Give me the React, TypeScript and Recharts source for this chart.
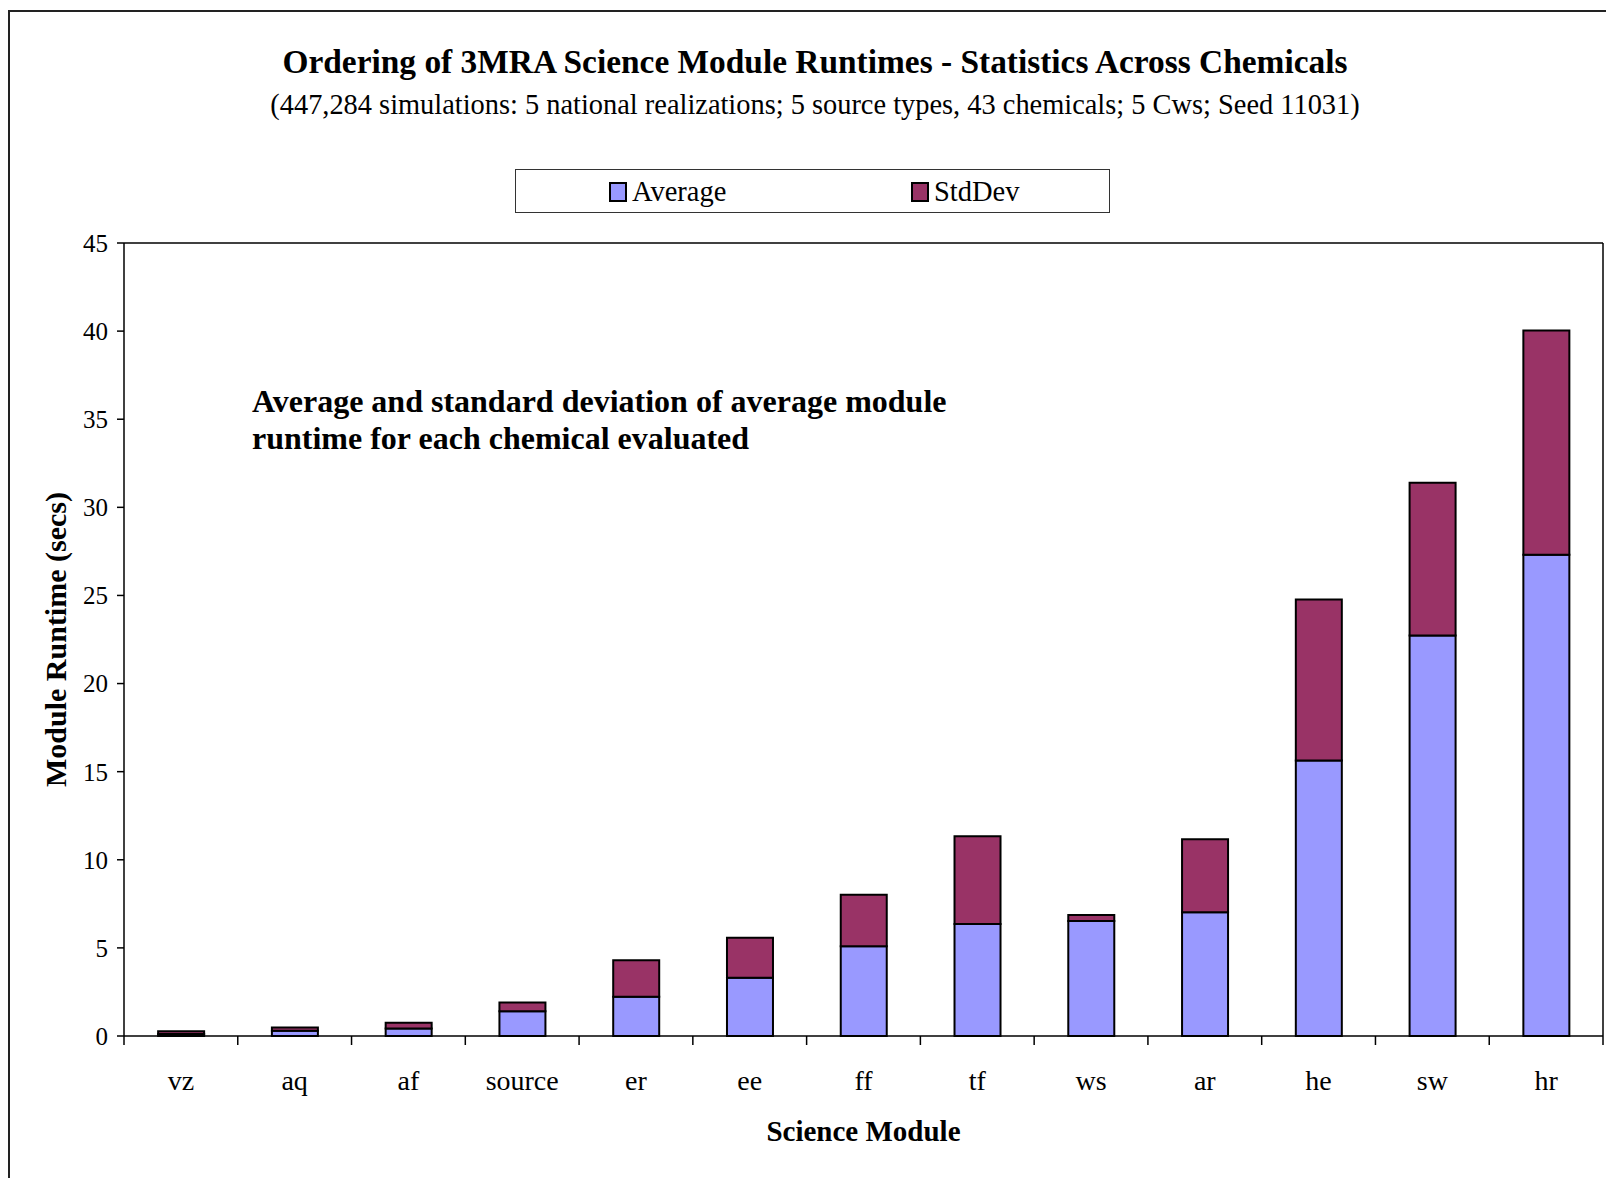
import React from 'react';
import { BarChart, Bar, XAxis, YAxis } from 'recharts';

// module runtimes (secs), ordered by average
const modules = ['vz', 'aq', 'af', 'source', 'er', 'ee', 'ff', 'tf', 'ws', 'ar', 'he', 'sw', 'hr'];
const averages = [0.12, 0.3, 0.42, 1.4, 2.23, 3.3, 5.1, 6.36, 6.53, 7.02, 15.64, 22.73, 27.31];
const stdDevs = [0.15, 0.18, 0.33, 0.5, 2.07, 2.27, 2.92, 4.98, 0.34, 4.14, 9.13, 8.67, 12.73];
const runtimeTicks = [0, 5, 10, 15, 20, 25, 30, 35, 40, 45];
const seriesNames = ['Average', 'StdDev'];

const data = modules.map((name, i) => ({ name, Average: averages[i], StdDev: stdDevs[i] }));

const SERIF = '"Liberation Serif", "Times New Roman", serif';
const COLORS: Record<string, string> = { Average: '#9999FF', StdDev: '#993366' };

// category label in the middle, tick marks on the category edges (Excel style)
const ModuleTick = (props: any) => {
  const { x, y, payload, index, visibleTicksCount } = props;
  const half = payload.offset || 0;
  const isLast = index === visibleTicksCount - 1;
  return (
    <g>
      <line x1={x - half} x2={x - half} y1={y} y2={y + 9} stroke="#000" strokeWidth={1.5} />
      {isLast && <line x1={x + half} x2={x + half} y1={y} y2={y + 9} stroke="#000" strokeWidth={1.5} />}
      <text x={x} y={y + 54} textAnchor="middle" fontFamily={SERIF} fontSize={28} fill="#000">
        {payload.value}
      </text>
    </g>
  );
};

const YLabel = ({ viewBox }: any) => {
  const cx = viewBox.x - 9;
  const cy = viewBox.y + viewBox.height / 2;
  return (
    <text
      x={cx}
      y={cy}
      transform={`rotate(-90 ${cx} ${cy})`}
      textAnchor="middle"
      dominantBaseline="central"
      fontFamily={SERIF}
      fontWeight="bold"
      fontSize={30}
      fill="#000"
    >
      Module Runtime (secs)
    </text>
  );
};

const XLabel = ({ viewBox }: any) => (
  <text
    x={viewBox.x + viewBox.width / 2}
    y={1141}
    textAnchor="middle"
    fontFamily={SERIF}
    fontWeight="bold"
    fontSize={29}
    fill="#000"
  >
    Science Module
  </text>
);

const LegendBox = () => (
  <div
    style={{
      position: 'absolute',
      left: 515,
      top: 169,
      width: 595,
      height: 44,
      boxSizing: 'border-box',
      border: '1px solid #333',
      background: '#fff',
      fontFamily: SERIF,
      fontSize: 28.5,
      color: '#000',
    }}
  >
    {seriesNames.map((name, i) => (
      <div
        key={name}
        style={{ position: 'absolute', left: i === 0 ? 93 : 395, top: 4, display: 'flex', alignItems: 'center', height: 36 }}
      >
        <span
          style={{
            display: 'inline-block',
            width: 14,
            height: 16,
            background: COLORS[name],
            border: '2px solid #000',
            marginRight: 5,
          }}
        />
        <span>{name}</span>
      </div>
    ))}
  </div>
);

export default function App() {
  return (
    <div style={{ position: 'absolute', left: 0, top: 0, width: 1606, height: 1178, overflow: 'hidden', background: '#fff' }}>
      <div
        style={{
          position: 'absolute',
          left: 8,
          top: 10,
          width: 1700,
          height: 1300,
          borderLeft: '2px solid #222',
          borderTop: '2px solid #222',
        }}
      />
      <div
        style={{
          position: 'absolute',
          left: 0,
          width: 1630,
          top: 43,
          textAlign: 'center',
          fontFamily: SERIF,
          fontWeight: 'bold',
          fontSize: 33.4,
          color: '#000',
        }}
      >
        Ordering of 3MRA Science Module Runtimes - Statistics Across Chemicals
      </div>
      <div
        style={{
          position: 'absolute',
          left: 0,
          width: 1630,
          top: 89,
          textAlign: 'center',
          fontFamily: SERIF,
          fontSize: 28.4,
          color: '#000',
        }}
      >
        (447,284 simulations: 5 national realizations; 5 source types, 43 chemicals; 5 Cws; Seed 11031)
      </div>
      <div
        style={{
          position: 'absolute',
          left: 252,
          top: 383,
          fontFamily: SERIF,
          fontWeight: 'bold',
          fontSize: 32,
          lineHeight: '37px',
          color: '#000',
        }}
      >
        Average and standard deviation of average module
        <br />
        runtime for each chemical evaluated
      </div>
      <LegendBox />
      <div style={{ position: 'absolute', left: 0, top: 0 }}>
        <BarChart
          width={1606}
          height={1178}
          data={data}
          margin={{ top: 242, right: 2, bottom: 102, left: 64 }}
          barCategoryGap="30%"
        >
          <XAxis
            dataKey="name"
            height={40}
            tickLine={false}
            tickSize={0}
            tickMargin={0}
            axisLine={{ stroke: '#000', strokeWidth: 1.5 }}
            tick={<ModuleTick />}
            interval={0}
            label={<XLabel />}
          />
          <XAxis
            xAxisId="top"
            orientation="top"
            dataKey="name"
            height={1}
            tick={false}
            tickLine={false}
            axisLine={{ stroke: '#000', strokeWidth: 1.5 }}
          />
          <YAxis
            domain={[0, 45]}
            ticks={runtimeTicks}
            interval={0}
            width={60}
            tickSize={7}
            tickMargin={9}
            axisLine={{ stroke: '#000', strokeWidth: 1.5 }}
            tickLine={{ stroke: '#000', strokeWidth: 1.5 }}
            tick={{ fill: '#000', fontSize: 25, fontFamily: SERIF }}
            label={<YLabel />}
          />
          <YAxis
            yAxisId="right"
            orientation="right"
            domain={[0, 45]}
            width={1}
            tick={false}
            tickLine={false}
            axisLine={{ stroke: '#000', strokeWidth: 1.5 }}
          />
          <Bar dataKey="Average" stackId="a" fill={COLORS.Average} stroke="#000" strokeWidth={2} isAnimationActive={false} />
          <Bar dataKey="StdDev" stackId="a" fill={COLORS.StdDev} stroke="#000" strokeWidth={2} isAnimationActive={false} />
        </BarChart>
      </div>
    </div>
  );
}
